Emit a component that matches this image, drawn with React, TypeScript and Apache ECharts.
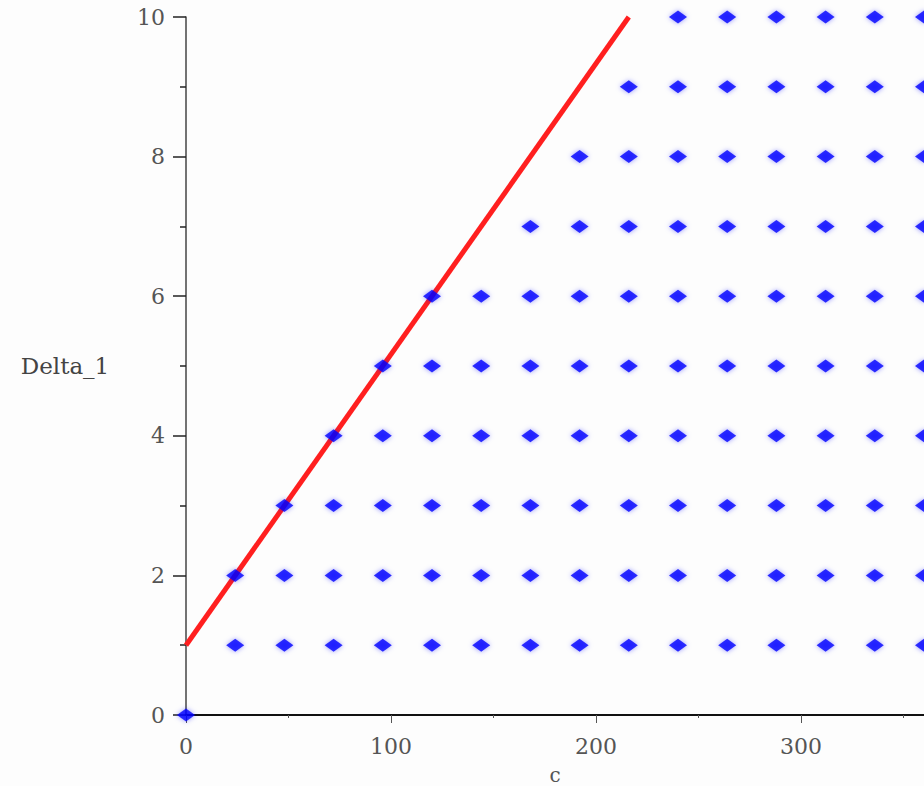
import React, { useEffect, useRef } from "react";
import * as echarts from "echarts";

// Data
const cValues = [24, 48, 72, 96, 120, 144, 168, 192, 216, 240, 264, 288, 312, 336, 360];
const deltaValues = [1, 2, 3, 4, 5, 6, 7, 8, 9, 10];
// first c value shown in each Delta_1 row
const rowStartC = [24, 24, 48, 72, 96, 120, 168, 192, 216, 240];
const originPoint = [0, 0];
const boundaryLine = [
  [0, 1],
  [216, 10],
];
const xTickLabels = [0, 100, 200, 300];
const yTickLabels = [0, 2, 4, 6, 8, 10];

export default function App() {
  const ref = useRef<HTMLDivElement>(null);
  useEffect(() => {
    if (!ref.current) return;
    const chart = echarts.init(ref.current, undefined, { renderer: "svg" });
    const points: number[][] = [originPoint];
    deltaValues.forEach((d, i) => {
      cValues.forEach((c) => {
        if (c >= rowStartC[i]) points.push([c, d]);
      });
    });
    const font = "'DejaVu Serif', 'Liberation Serif', serif";
    chart.setOption({
      animation: false,
      backgroundColor: "#fdfdfd",
      grid: { left: 186, top: 17, right: 0, bottom: 71, outerBoundsMode: "none", containLabel: false },
      xAxis: {
        type: "value",
        min: 0,
        max: 360,
        interval: 100,
        name: "c",
        nameLocation: "middle",
        nameGap: 50,
        nameTextStyle: { fontFamily: font, fontSize: 20, color: "#555", lineHeight: 20 },
        axisLine: { lineStyle: { color: "#111", width: 2 } },
        axisTick: { show: true, length: 8, lineStyle: { color: "#555", width: 1 } },
        minorTick: { show: true, splitNumber: 2, length: 3, lineStyle: { color: "#555" } },
        axisLabel: {
          fontFamily: font,
          fontSize: 22,
          color: "#555",
          margin: 20,
          showMaxLabel: false,
          formatter: (v: number) => (xTickLabels.includes(v) ? String(v) : ""),
        },
        splitLine: { show: false },
      },
      yAxis: {
        type: "value",
        min: 0,
        max: 10,
        interval: 2,
        name: "Delta_1",
        nameLocation: "middle",
        nameRotate: 0,
        nameGap: 121,
        nameTextStyle: { fontFamily: font, fontSize: 23, color: "#444", align: "center" },
        axisLine: { show: true, lineStyle: { color: "#444", width: 1.5 } },
        axisTick: { show: true, length: 13, lineStyle: { color: "#222", width: 1.5 } },
        minorTick: { show: true, splitNumber: 2, length: 6, lineStyle: { color: "#222", width: 1.5 } },
        axisLabel: {
          fontFamily: font,
          fontSize: 22,
          color: "#555",
          margin: 21,
          formatter: (v: number) => (yTickLabels.includes(v) ? String(v) : ""),
        },
        splitLine: { show: false },
      },
      series: [
        {
          type: "line",
          data: boundaryLine,
          symbol: "none",
          lineStyle: { color: "#ff1f1f", width: 5 },
          z: 2,
        },
        {
          type: "scatter",
          data: points,
          symbol: "diamond",
          symbolSize: [18, 13],
          itemStyle: { color: "#0000ff", shadowBlur: 5, shadowColor: "rgba(0,0,255,0.5)" },
          clip: false,
          z: 3,
        },
      ],
    });
    return () => chart.dispose();
  }, []);
  return (
    <div
      ref={ref}
      style={{ position: "fixed", left: 0, top: 0, width: 924, height: 786 }}
    />
  );
}
